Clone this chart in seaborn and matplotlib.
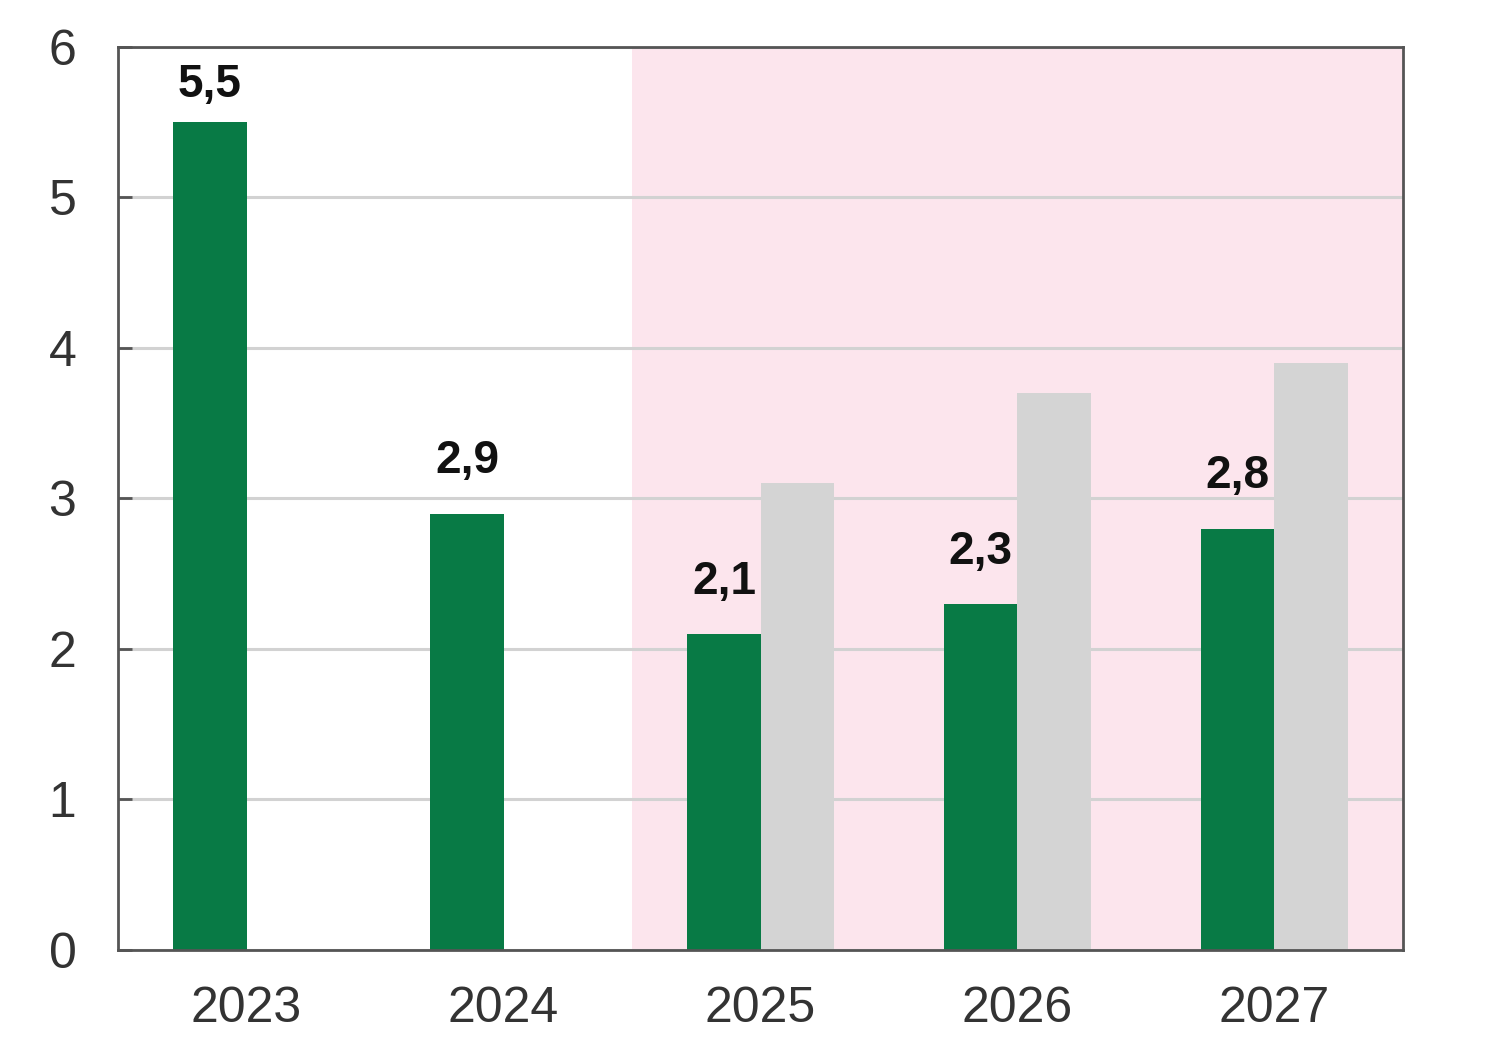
import numpy as np
import pandas as pd
import matplotlib
matplotlib.use("Agg")
import matplotlib.pyplot as plt
import seaborn as sns

years = ["2023", "2024", "2025", "2026", "2027"]
main_values = [5.5, 2.9, 2.1, 2.3, 2.8]
compare_values = [np.nan, np.nan, 3.1, 3.7, 3.9]
series_names = ["main", "compare"]
label_texts = ["5,5", "2,9", "2,1", "2,3", "2,8"]
y_ticks = [0, 1, 2, 3, 4, 5, 6]

df = pd.DataFrame({
    "year": years * 2,
    "series": [series_names[0]] * len(years) + [series_names[1]] * len(years),
    "value": main_values + compare_values,
})

sns.set_theme(style="white")
plt.rcParams["font.family"] = ["Liberation Sans", "DejaVu Sans"]

fig = plt.figure(figsize=(15, 10.56), dpi=100)
ax = fig.add_axes([0.0787, 0.1004, 0.8566, 0.8551])

ax.axvspan(1.5, 4.5, color="#fce5ed", zorder=0, lw=0)

sns.barplot(data=df, x="year", y="value", hue="series", order=years,
            hue_order=series_names, palette=["#087a45", "#d4d4d4"],
            width=0.57, gap=0, dodge=True, ax=ax, legend=False,
            errorbar=None, saturation=1, zorder=2, linewidth=0)

# labels over green bars (kept inside the plot area at the top)
green_bars = ax.containers[0]
for rect, txt in zip(green_bars, label_texts):
    x = rect.get_x() + rect.get_width() / 2
    y = min(rect.get_height() + 0.2, 5.6)
    ax.text(x, y, txt, ha="center", va="bottom",
            fontsize=33, fontweight="bold", color="#111111", zorder=5)

ax.set_xlim(-0.5, 4.5)
ax.set_ylim(0, 6)
ax.set_yticks(y_ticks)
ax.set_yticklabels([str(t) for t in y_ticks])
ax.yaxis.grid(True, color="#d2d2d2", lw=2.2, zorder=0.5)
ax.set_axisbelow(True)
ax.set_xlabel("")
ax.set_ylabel("")

for s in ax.spines.values():
    s.set_color("#555555")
    s.set_linewidth(2)
    s.set_visible(True)

ax.tick_params(axis="y", direction="in", length=10, width=2, color="#555555",
               labelsize=36, labelcolor="#333333", pad=30, left=True)
ax.tick_params(axis="x", length=0, labelsize=36, labelcolor="#333333", pad=26)

fig.savefig("out.png", dpi=100)
